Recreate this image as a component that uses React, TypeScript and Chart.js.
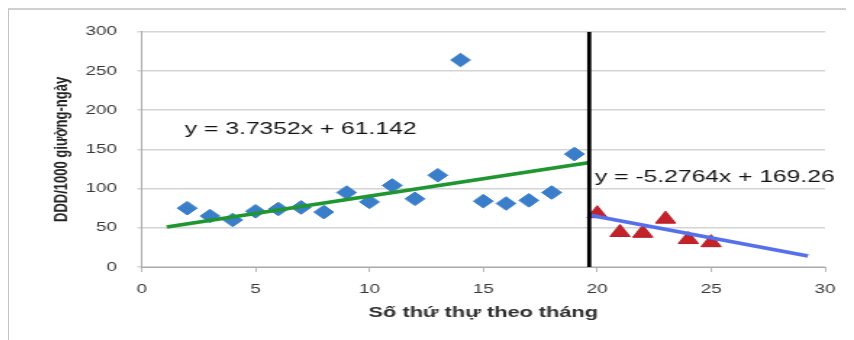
import React, { useEffect, useRef } from "react";
import { Chart, registerables } from "chart.js";

Chart.register(...registerables);

// Phase 1 (months 2-19), blue diamonds
const months1 = [2, 3, 4, 5, 6, 7, 8, 9, 10, 11, 12, 13, 14, 15, 16, 17, 18, 19];
const ddd1 = [75, 65, 60, 71, 74, 76, 70, 95, 83, 104, 87, 117, 264, 84, 81, 85, 95, 144];

// Phase 2 (months 20-25), red triangles
const months2 = [20, 21, 22, 23, 24, 25];
const ddd2 = [68, 44, 43, 61, 35, 31];

// Trend lines as drawn in the picture
const trend1X = [1.1, 19.6];
const trend1Y = [51, 133];
const trend2X = [19.7, 29.25];
const trend2Y = [66, 14];

// Vertical divider
const dividerX = [19.65, 19.65];
const dividerY = [0, 300];

// Equation labels
const equationTexts = ["y = 3.7352x + 61.142", "y = -5.2764x + 169.26"];
const equationX = [1.9, 19.9];
const equationY = [176, 115];

const xTitle = "Số thứ thự theo tháng";
const yTitle = "DDD/1000 giường-ngày";

const FONT = '"Liberation Sans", Arial, sans-serif';
const STRETCH = 1.45;
const W = 583;
const H = 330;

const toPts = (xs: number[], ys: number[]) => xs.map((x, i) => ({ x, y: ys[i] }));

const equationPlugin = {
  id: "equations",
  afterDatasetsDraw(chart: any) {
    const { ctx, scales } = chart;
    const xs = scales.x;
    const ys = scales.y;
    ctx.save();
    ctx.font = `17px ${FONT}`;
    ctx.fillStyle = "#141414";
    ctx.textAlign = "left";
    ctx.textBaseline = "middle";
    equationTexts.forEach((t, i) => {
      ctx.fillText(t, xs.getPixelForValue(equationX[i]), ys.getPixelForValue(equationY[i]));
    });
    ctx.restore();
  },
};

export default function App() {
  const ref = useRef<HTMLCanvasElement | null>(null);

  useEffect(() => {
    const canvas = ref.current;
    if (!canvas) return;
    const chart = new Chart(canvas, {
      type: "scatter",
      data: {
        datasets: [
          {
            label: "divider",
            data: toPts(dividerX, dividerY),
            showLine: true,
            borderColor: "#000000",
            borderWidth: 2.8,
            pointRadius: 0,
            order: 0,
          },
          {
            label: "trend1",
            data: toPts(trend1X, trend1Y),
            showLine: true,
            borderColor: "#1f9630",
            borderWidth: 3.5,
            pointRadius: 0,
            order: 1,
          },
          {
            label: "trend2",
            data: toPts(trend2X, trend2Y),
            showLine: true,
            borderColor: "#5670ec",
            borderWidth: 3.5,
            pointRadius: 0,
            order: 1,
          },
          {
            label: "phase1",
            data: toPts(months1, ddd1),
            pointStyle: "rectRot",
            pointRadius: 6.8,
            backgroundColor: "#3a7ec9",
            borderColor: "#3a7ec9",
            borderWidth: 1,
            order: 2,
          },
          {
            label: "phase2",
            data: toPts(months2, ddd2),
            pointStyle: "triangle",
            pointRadius: 8,
            backgroundColor: "#c3222a",
            borderColor: "#b81e25",
            borderWidth: 1,
            order: 2,
          },
        ],
      },
      options: {
        responsive: false,
        animation: false,
        devicePixelRatio: 1,
        layout: { padding: { left: 0, right: 20, top: 20, bottom: 0 } },
        plugins: {
          legend: { display: false },
          tooltip: { enabled: false },
        },
        scales: {
          x: {
            type: "linear",
            min: 0,
            max: 30,
            ticks: {
              stepSize: 5,
              padding: 10,
              color: "#383838",
              font: { family: FONT, size: 13 },
            },
            grid: {
              drawOnChartArea: false,
              drawTicks: true,
              tickLength: 5,
              color: "#b8b8b8",
            },
            border: { color: "#aaaaaa", width: 1 },
            title: {
              display: true,
              text: xTitle,
              color: "#2e2e2e",
              font: { family: FONT, size: 15, weight: "bold" },
              padding: { top: 0, bottom: 18 },
            },
            afterFit: (s: any) => {
              s.height = 73;
            },
          },
          y: {
            type: "linear",
            min: 0,
            max: 300,
            ticks: {
              stepSize: 50,
              padding: 14,
              color: "#383838",
              font: { family: FONT, size: 13 },
            },
            grid: {
              color: "#d4d4d4",
              lineWidth: 1.5,
              tickLength: 3,
            },
            border: { color: "#aaaaaa", width: 1 },
            title: {
              display: true,
              text: yTitle,
              color: "#222222",
              font: { family: FONT, size: 13, weight: "bold" },
              padding: { top: 29, bottom: 0 },
            },
            afterFit: (s: any) => {
              s.width = 91.5;
            },
          },
        },
      },
      plugins: [equationPlugin],
    });
    return () => chart.destroy();
  }, []);

  return (
    <div
      style={{
        marginLeft: -1,
        borderLeft: "2px solid #c4c4c4",
        borderTop: "2px solid #d0d0d0",
        width: 847,
        height: 332,
        overflow: "hidden",
        background: "#ffffff",
      }}
    >
      <canvas
        ref={ref}
        width={W}
        height={H}
        style={{ width: `${W * STRETCH}px`, height: `${H}px`, display: "block" }}
      />
    </div>
  );
}
